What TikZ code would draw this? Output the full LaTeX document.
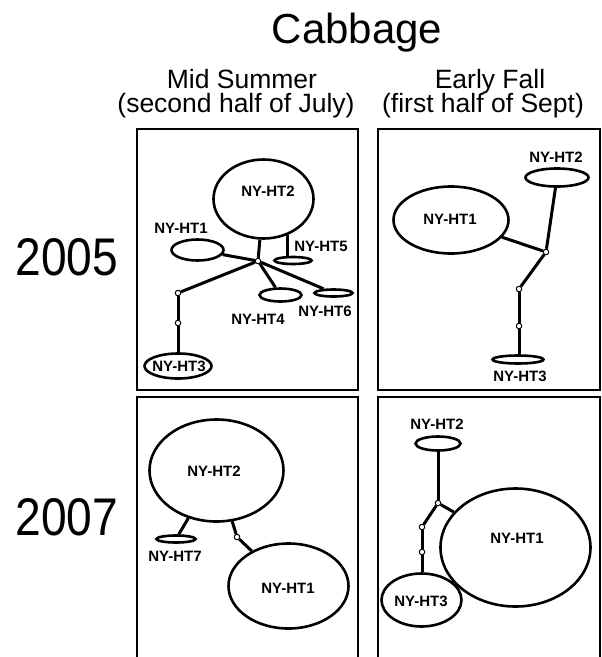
\documentclass[tikz,border=0pt]{standalone}
\usepackage{fontspec}
\setmainfont{Liberation Sans}
\usetikzlibrary{shapes.geometric}
\begin{document}
\begin{tikzpicture}[x=1pt,y=-1pt,
  panel/.style={line width=2pt},
  hap/.style={ellipse,draw,line width=2.6pt,inner sep=0pt},
  lbl/.style={font=\fontsize{15}{15}\selectfont\bfseries,inner sep=0pt},
  med/.style={circle,draw,fill=white,line width=1pt,minimum size=5.5pt,inner sep=0pt},
  link/.style={line width=3pt},
  ttl/.style={font=\fontsize{42}{48}\selectfont,inner sep=0pt,anchor=base},
  sub/.style={font=\fontsize{26.5}{30}\selectfont,inner sep=0pt,anchor=base},
  yr/.style={inner sep=0pt,anchor=base}]
\useasboundingbox (0,0) rectangle (602,657);
% titles
\node[ttl] (title) at (357,43) {Cabbage};
\node[sub] (c1a) at (242,88) {Mid Summer};
\node[sub] (c1b) at (236,112) {(second half of July)};
\node[sub] (c2a) at (490,88) {Early Fall};
\node[sub] (c2b) at (483,112) {(first half of Sept)};
\node[yr] (y5) at (67,275) {\scalebox{0.87}[1]{\fontsize{53}{60}\selectfont 2005}};
\node[yr] (y7) at (67,535) {\scalebox{0.87}[1]{\fontsize{53}{60}\selectfont 2007}};
% panel frames
\draw[panel] (137,129) rectangle (358,390);
\draw[panel] (378,129) rectangle (600,390);
\draw[panel] (137,657) -- (137,397) -- (358,397) -- (358,657);
\draw[panel] (378,657) -- (378,397) -- (600,397) -- (600,657);

% ---- panel 1: 2005 mid summer
\node[hap,minimum width=100pt,minimum height=79pt] (a2) at (263.5,199) {};
\node[hap,minimum width=52pt,minimum height=21pt] (a1) at (197.5,250) {};
\node[hap,minimum width=37pt,minimum height=7pt] (a5) at (293,260.5) {};
\node[hap,minimum width=42pt,minimum height=13pt] (a4) at (280.5,295) {};
\node[hap,minimum width=38pt,minimum height=7pt] (a6) at (333.5,293) {};
\node[hap,minimum width=67pt,minimum height=25pt] (a3) at (178,366) {};
\node[med] (ah) at (258,261) {};
\node[med] (am1) at (178,293) {};
\node[med] (am2) at (178,323) {};
\draw[link] (a2) -- (ah);
\draw[link] (a1) -- (ah);
\draw[link] (ah) -- (a4);
\draw[link] (ah) -- (a6);
\draw[link] (ah) -- (am1);
\draw[link] (am1) -- (am2);
\draw[link] (am2) -- (a3);
\draw[link] (a2.-57) -- (a2.-57 |- a5.north);
\node[lbl] (la2) at (268,191) {NY-HT2};
\node[lbl] (la1) at (181,228) {NY-HT1};
\node[lbl] (la5) at (321,246) {NY-HT5};
\node[lbl] (la4) at (258,319) {NY-HT4};
\node[lbl] (la6) at (325,311) {NY-HT6};
\node[lbl] (la3) at (179,366) {NY-HT3};

% ---- panel 2: 2005 early fall
\node[hap,minimum width=63pt,minimum height=18pt] (b2) at (557,177.5) {};
\node[hap,minimum width=115pt,minimum height=67pt] (b1) at (451,220) {};
\node[hap,minimum width=51pt,minimum height=8pt] (b3) at (518,359.5) {};
\node[med] (bh) at (546,252) {};
\node[med] (bm1) at (519,289) {};
\node[med] (bm2) at (519,326) {};
\draw[link] (b2) -- (bh);
\draw[link] (b1) -- (bh);
\draw[link] (bh) -- (bm1);
\draw[link] (bm1) -- (bm2);
\draw[link] (bm2) -- (bm2 |- b3.north);
\node[lbl] (lb2) at (556,157) {NY-HT2};
\node[lbl] (lb1) at (450,219) {NY-HT1};
\node[lbl] (lb3) at (520,376) {NY-HT3};

% ---- panel 3: 2007 mid summer
\node[hap,minimum width=134pt,minimum height=102pt] (c2) at (216.5,470.5) {};
\node[hap,minimum width=39pt,minimum height=7pt] (c7) at (176,539) {};
\node[hap,minimum width=120pt,minimum height=85pt] (c1) at (288.5,586) {};
\node[med] (cm) at (237,537) {};
\draw[link] (c2) -- (c7);
\draw[link] (c2) -- (cm);
\draw[link] (cm) -- (c1);
\node[lbl] (lc2) at (214,471) {NY-HT2};
\node[lbl] (lc7) at (175,556) {NY-HT7};
\node[lbl] (lc1) at (288,588) {NY-HT1};

% ---- panel 4: 2007 early fall
\node[hap,minimum width=45pt,minimum height=14pt] (d2) at (438,443.5) {};
\node[hap,minimum width=150pt,minimum height=118pt] (d1) at (515.5,547.5) {};
\node[hap,minimum width=80pt,minimum height=53pt] (d3) at (421.5,600) {};
\node[med] (dh) at (438,503) {};
\node[med] (dm1) at (422,527) {};
\node[med] (dm2) at (422,552) {};
\draw[link] (d2) -- (dh);
\draw[link] (dh) -- (d1);
\draw[link] (dh) -- (dm1);
\draw[link] (dm1) -- (dm2);
\draw[link] (dm2) -- (dm2 |- d3.north);
\node[lbl] (ld2) at (437,424) {NY-HT2};
\node[lbl] (ld1) at (517,538) {NY-HT1};
\node[lbl] (ld3) at (421,601) {NY-HT3};
\end{tikzpicture}
\end{document}
